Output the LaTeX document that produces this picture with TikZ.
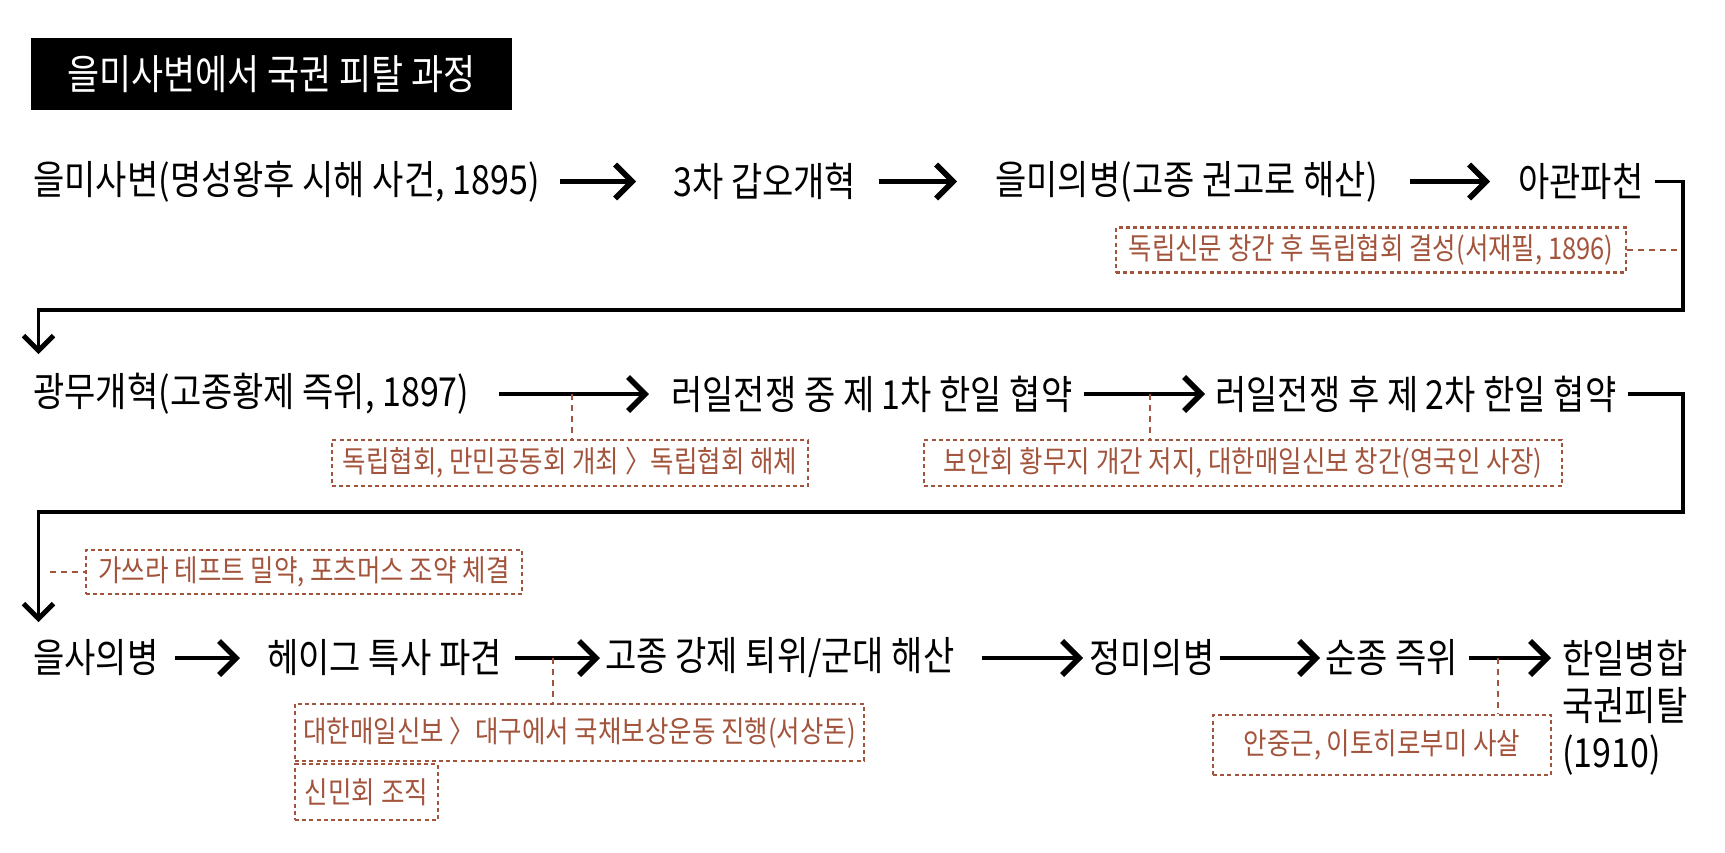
\documentclass[tikz,border=0pt]{standalone}
\usepackage{fontspec}
\usetikzlibrary{arrows.meta}
\newfontfamily\krfont{Noto Sans CJK KR}[FakeStretch=0.85]
\definecolor{notebrown}{RGB}{163,84,60}

\begin{document}
\begin{tikzpicture}[x=0.5pt,y=-0.5pt,
    event/.style={anchor=west,inner sep=0pt,font=\krfont\fontsize{20}{23.5}\selectfont},
    note/.style={draw=notebrown,dash pattern=on 2pt off 1.6pt,line width=1.2pt,text=notebrown,inner sep=0pt,font=\krfont\fontsize{15}{17}\selectfont},
    flow/.style={line width=2.3pt,-{Straight Barb[length=8.5pt,width=17pt,line width=2.8pt]}},
    wrap/.style={line width=1.8pt,-{Straight Barb[length=7.5pt,width=15pt,line width=2.4pt]}},
    notelink/.style={notebrown,line width=1.1pt,dash pattern=on 3pt off 2.5pt}]
        \useasboundingbox (0,0) rectangle (1725,852);
        \node[fill=black,text=white,minimum width=240.5pt,minimum height=36pt,font=\krfont\fontsize{20.5}{23}\selectfont] (title) at (271.5,74) {을미사변에서 국권 피탈 과정};

        \node[event] (n11) at (33,181.5) {을미사변(명성왕후 시해 사건, 1895)};
        \node[event] (n12) at (673,181.5) {3차 갑오개혁};
        \node[event] (n13) at (995,181.5) {을미의병(고종 권고로 해산)};
        \node[event] (n14) at (1518,181.5) {아관파천};
        \draw[flow,shorten <=10pt,shorten >=18.5pt] (n11.east) -- (n12.west);
        \draw[flow,shorten <=11pt,shorten >=19pt] (n12.east) -- (n13.west);
        \draw[flow,shorten <=16pt,shorten >=14pt] (n13.east) -- (n14.west);

        \node[note,minimum width=255pt,minimum height=22.5pt] (note1) at (1371,250) {독립신문 창간 후 독립협회 결성(서재필, 1896)};
        \coordinate (tap1) at (1683,250);
        \draw[notelink] (note1.east) -- (tap1);

        \coordinate (turn1) at (1683,310);
        \coordinate (drop1) at (38.5,354);
        \draw[wrap,shorten <=5.5pt] (n14.east) -| (turn1) -| (drop1);

        \node[event] (n21) at (33,394) {광무개혁(고종황제 즉위, 1897)};
        \node[event] (n22) at (671,394) {러일전쟁 중 제 1차 한일 협약};
        \node[event] (n23) at (1215,394) {러일전쟁 후 제 2차 한일 협약};
        \draw[flow,shorten <=14.5pt,shorten >=11pt] (n21.east) -- (n22.west);
        \draw[flow,shorten <=5.5pt,shorten >=5pt] (n22.east) -- (n23.west);

        \node[note,minimum width=238pt,minimum height=23pt] (note2) at (570,463) {독립협회, 만민공동회 개최 〉독립협회 해체};
        \coordinate (tap2) at (572,394);
        \draw[notelink] (tap2) -- (tap2 |- note2.north);
        \node[note,minimum width=319pt,minimum height=23pt] (note3) at (1243,463) {보안회 황무지 개간 저지, 대한매일신보 창간(영국인 사장)};
        \coordinate (tap3) at (1150,394);
        \draw[notelink] (tap3) -- (tap3 |- note3.north);

        \coordinate (turn2) at (1683,512);
        \coordinate (drop2) at (38.5,622);
        \draw[wrap,shorten <=5.5pt] (n23.east) -| (turn2) -| (drop2);

        \node[note,minimum width=218pt,minimum height=22pt] (note4) at (304,572) {가쓰라 테프트 밀약, 포츠머스 조약 체결};
        \coordinate (tap4) at (50,572);
        \draw[notelink] (tap4) -- (note4.west);

        \node[event] (n31) at (33,658) {을사의병};
        \node[event] (n32) at (267,658) {헤이그 특사 파견};
        \node[event] (n33) at (605,658) {고종 강제 퇴위/군대 해산};
        \node[event] (n34) at (1089,658) {정미의병};
        \node[event] (n35) at (1325,658) {순종 즉위};
        \node[event,anchor=north west,align=left] (n36) at (1562,640) {한일병합\\국권피탈\\(1910)};
        \draw[flow,shorten <=8pt,shorten >=13.5pt] (n31.east) -- (n32.west);
        \draw[flow,shorten <=6.5pt,shorten >=2.5pt] (n32.east) -- (n33.west);
        \draw[flow,shorten <=13.5pt,shorten >=3pt] (n33.east) -- (n34.west);
        \draw[flow,shorten <=2.5pt,shorten >=2.5pt] (n34.east) -- (n35.west);
        \draw[flow,shorten <=5pt,shorten >=5.5pt] (n35.east) -- (n35.east -| n36.west);

        \node[note,minimum width=284.5pt,minimum height=28.5pt] (note5) at (579.5,732.5) {대한매일신보 〉대구에서 국채보상운동 진행(서상돈)};
        \coordinate (tap5) at (553,658);
        \draw[notelink] (tap5) -- (tap5 |- note5.north);
        \node[note,minimum width=71.5pt,minimum height=28pt] (note6) at (366.5,792) {신민회 조직};
        \node[note,minimum width=169pt,minimum height=30pt] (note7) at (1382,745) {안중근, 이토히로부미 사살};
        \coordinate (tap7) at (1498,658);
        \draw[notelink] (tap7) -- (tap7 |- note7.north);
    \end{tikzpicture}
\end{document}
